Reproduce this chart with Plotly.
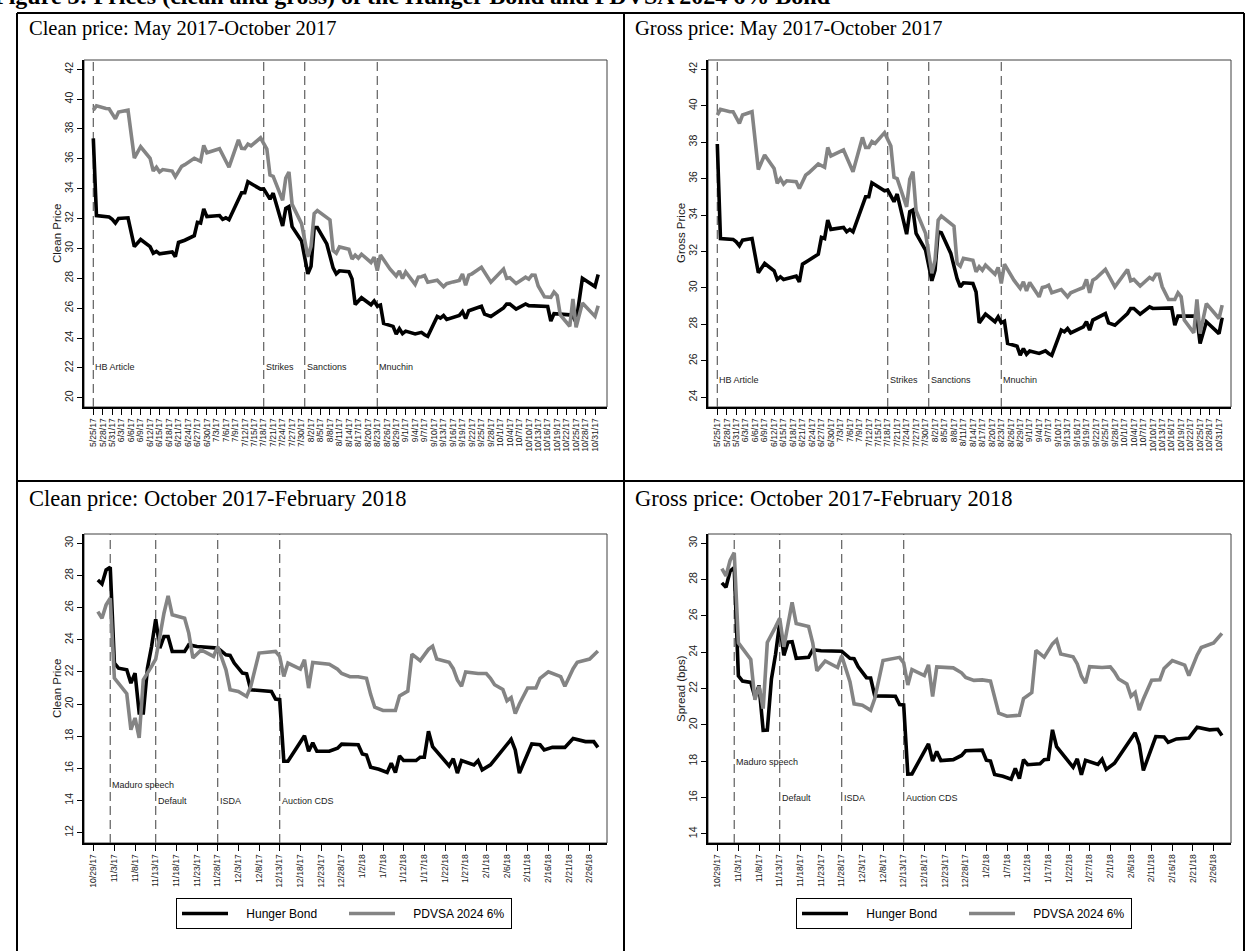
import pandas as pd
import plotly.graph_objects as go

W, H = 1248, 951

# ---------------- DATA ----------------
# Panel 1/2: May-Oct 2017, x = days after 2017-05-25
top_hb_days = [0, 1, 5, 6, 7, 8, 11, 13, 15, 18, 19, 20, 21, 25, 26, 27, 29, 32, 33, 34,
               35, 36, 40, 41, 42, 43, 47, 48, 49, 53, 54, 56, 57, 60, 61, 62, 63, 66, 68, 69,
               70, 71, 74, 76, 77, 78, 81, 82, 83, 85, 88, 89, 90, 91, 92, 95, 96, 97, 98, 99,
               102, 104, 105, 106, 109, 110, 111, 112, 116, 117, 118, 119, 123, 124, 126, 130, 131, 132, 134, 137,
               138, 144, 145, 146, 151, 152, 153, 155, 159, 160]
top_hb_clean = [37.37, 32.2, 32.1, 31.95, 31.7, 32.0, 32.05, 30.12, 30.6, 30.12,
                29.68, 29.8, 29.64, 29.77, 29.45, 30.4, 30.55, 30.85, 31.75, 31.7,
                32.64, 32.13, 32.2, 31.95, 32.05, 31.92, 33.73, 33.73, 34.47, 33.97,
                33.99, 33.3, 33.7, 31.5, 32.68, 32.8, 31.46, 30.5, 28.3, 28.8,
                31.4, 31.4, 30.3, 28.7, 28.3, 28.5, 28.44, 27.96, 26.25, 26.7,
                26.23, 26.48, 26.14, 26.21, 24.98, 24.78, 24.26, 24.62, 24.29, 24.46,
                24.27, 24.38, 24.22, 24.11, 25.44, 25.33, 25.5, 25.24, 25.51, 25.77,
                25.3, 25.83, 26.13, 25.6, 25.44, 26.02, 26.28, 26.27, 25.93, 26.28,
                26.17, 26.11, 25.14, 25.63, 25.55, 25.45, 25.05, 28.0, 27.45, 28.25]
top_hb_gross = [37.9, 32.71, 32.66, 32.53, 32.31, 32.62, 32.71, 30.83, 31.34, 30.94,
                30.46, 30.61, 30.46, 30.64, 30.33, 31.3, 31.52, 31.85, 32.77, 32.71,
                33.72, 33.21, 33.32, 33.08, 33.21, 33.08, 35.0, 35.0, 35.77, 35.33,
                35.37, 34.73, 35.15, 32.95, 34.18, 34.27, 32.99, 32.07, 30.39, 30.97,
                33.08, 33.03, 31.89, 30.5, 30.06, 30.28, 30.24, 29.78, 28.08, 28.56,
                28.14, 28.41, 28.08, 28.17, 26.95, 26.8, 26.3, 26.67, 26.36, 26.54,
                26.4, 26.54, 26.4, 26.3, 27.68, 27.59, 27.77, 27.53, 27.86, 28.14,
                27.68, 28.23, 28.59, 28.08, 27.95, 28.59, 28.87, 28.87, 28.56, 28.96,
                28.87, 28.9, 27.95, 28.45, 28.45, 28.37, 26.95, 28.14, 27.49, 28.37]

top_pd_days = [0, 1, 4, 5, 7, 8, 11, 13, 15, 18, 19, 20, 21, 22, 25, 26, 28, 29, 32, 34,
               35, 36, 40, 43, 46, 47, 48, 49, 50, 53, 55, 56, 57, 60, 61, 62, 63, 66, 68, 69,
               70, 71, 75, 76, 77, 78, 81, 82, 83, 84, 85, 88, 89, 90, 91, 94, 96, 97, 98, 99,
               102, 103, 104, 105, 106, 109, 111, 112, 114, 116, 117, 118, 119, 120, 123, 126, 130, 131, 132, 134,
               137, 138, 139, 140, 141, 143, 145, 146, 147, 148, 151, 152, 153, 155, 159, 160]
top_pd_clean = [39.26, 39.55, 39.37, 39.36, 38.68, 39.13, 39.26, 36.05, 36.81, 36.03,
                35.19, 35.44, 35.12, 35.28, 35.18, 34.8, 35.5, 35.61, 36.04, 35.83,
                36.9, 36.41, 36.68, 35.44, 37.27, 36.7, 36.68, 36.99, 36.87, 37.41,
                36.65, 34.91, 34.82, 33.22, 34.72, 35.12, 32.95, 31.66, 29.44, 30.14,
                32.33, 32.53, 31.91, 29.85, 29.68, 30.1, 29.95, 29.29, 29.55, 29.35,
                29.61, 29.06, 29.41, 28.52, 29.56, 28.63, 28.15, 28.49, 27.98, 28.43,
                27.59, 28.08, 28.1, 28.18, 27.74, 27.87, 27.44, 27.64, 27.76, 27.86,
                28.29, 27.54, 28.21, 28.3, 28.74, 27.74, 28.62, 27.99, 28.04, 27.65,
                28.07, 27.94, 28.21, 28.2, 27.49, 26.76, 26.72, 27.08, 26.84, 25.54,
                24.79, 26.61, 24.72, 26.34, 25.45, 26.16]
top_pd_gross = [39.49, 39.8, 39.67, 39.67, 39.03, 39.49, 39.67, 36.5, 37.29, 36.56,
                35.74, 36.0, 35.7, 35.88, 35.83, 35.46, 36.19, 36.32, 36.8, 36.62,
                37.71, 37.24, 37.57, 36.38, 38.26, 37.71, 37.71, 38.03, 37.93, 38.52,
                37.79, 36.07, 36.0, 34.45, 35.96, 36.38, 34.23, 32.99, 30.8, 31.52,
                33.72, 33.94, 33.39, 31.34, 31.19, 31.62, 31.52, 30.88, 31.16, 30.97,
                31.25, 30.75, 31.12, 30.24, 31.3, 30.42, 29.97, 30.33, 29.84, 30.3,
                29.51, 30.02, 30.06, 30.15, 29.73, 29.91, 29.51, 29.73, 29.88, 30.02,
                30.46, 29.73, 30.42, 30.52, 31.01, 30.06, 31.01, 30.39, 30.46, 30.1,
                30.57, 30.46, 30.75, 30.75, 30.06, 29.36, 29.36, 29.73, 29.51, 28.23,
                27.53, 29.36, 27.49, 29.14, 28.32, 29.05]

# Panel 3/4: Oct 2017-Feb 2018, x = days after 2017-10-29
bot_hb_days = [1, 2, 3, 4, 5, 6, 8, 9, 10, 11, 12, 13, 14, 15, 16, 17, 18, 19, 22, 23,
               25, 29, 30, 32, 33, 34, 36, 37, 38, 43, 44, 45, 46, 47, 51, 52, 53, 54, 57, 59,
               60, 64, 65, 66, 67, 69, 71, 72, 73, 74, 75, 78, 79, 80, 81, 82, 86, 87, 88, 89,
               92, 93, 94, 96, 101, 102, 103, 106, 108, 109, 111, 114, 116, 119, 121, 122]
bot_hb_clean = [27.72, 27.47, 28.34, 28.51, 22.54, 22.23, 22.13, 21.3, 21.92, 19.44,
                19.44, 22.23, 23.58, 25.28, 23.48, 24.2, 24.2, 23.27, 23.27, 23.68,
                23.58, 23.48, 23.48, 23.06, 23.02, 22.55, 21.92, 21.88, 20.89, 20.78,
                20.31, 20.27, 16.44, 16.44, 18.03, 17.06, 17.58, 17.06, 17.06, 17.25,
                17.5, 17.46, 16.89, 16.83, 16.07, 15.94, 15.74, 16.32, 15.74, 16.77,
                16.48, 16.48, 16.69, 16.69, 18.3, 17.35, 16.15, 16.6, 15.7, 16.48,
                16.21, 16.48, 15.9, 16.21, 17.8, 17.14, 15.7, 17.51, 17.46, 17.14,
                17.3, 17.3, 17.85, 17.66, 17.66, 17.3]
bot_hb_gross = [27.82, 27.58, 28.47, 28.66, 22.7, 22.41, 22.34, 21.53, 22.17, 19.7,
                19.72, 22.53, 23.89, 25.61, 23.83, 24.56, 24.58, 23.67, 23.72, 24.14,
                24.08, 24.04, 24.06, 23.67, 23.65, 23.2, 22.6, 22.58, 21.6, 21.58,
                21.12, 21.1, 17.29, 17.3, 18.96, 18.01, 18.54, 18.04, 18.09, 18.32,
                18.58, 18.61, 18.06, 18.01, 17.27, 17.17, 17.01, 17.6, 17.04, 18.09,
                17.81, 17.86, 18.09, 18.11, 19.73, 18.8, 17.67, 18.13, 17.25, 18.05,
                17.83, 18.11, 17.55, 17.89, 19.57, 18.92, 17.5, 19.36, 19.34, 19.04,
                19.23, 19.28, 19.87, 19.73, 19.76, 19.42]

bot_pd_days = [1, 2, 3, 4, 5, 8, 9, 10, 11, 12, 14, 15, 16, 17, 18, 19, 22, 23, 24, 26,
               29, 30, 32, 33, 35, 37, 38, 40, 44, 45, 46, 47, 50, 51, 52, 53, 57, 59, 60, 62,
               64, 66, 67, 68, 70, 73, 74, 76, 77, 79, 81, 82, 83, 86, 87, 88, 89, 90, 93, 95,
               96, 97, 99, 100, 101, 102, 103, 105, 107, 108, 110, 112, 113, 114, 116, 117, 120, 122]
bot_pd_clean = [25.75, 25.34, 26.17, 26.58, 21.61, 20.64, 18.4, 19.13, 17.89, 21.51,
                22.34, 22.79, 24.2, 25.65, 26.73, 25.55, 25.34, 24.41, 22.86, 23.37,
                22.96, 23.58, 22.13, 20.89, 20.78, 20.47, 21.1, 23.17, 23.27, 22.96,
                21.72, 22.55, 22.17, 22.75, 20.99, 22.59, 22.48, 22.17, 21.9, 21.7,
                21.7, 21.6, 20.6, 19.8, 19.6, 19.6, 20.5, 20.8, 23.1, 22.7,
                23.4, 23.6, 22.8, 22.6, 22.2, 21.5, 21.1, 22.0, 21.9, 21.9,
                21.6, 21.2, 20.9, 20.2, 20.4, 19.4, 20.0, 21.0, 21.0, 21.6,
                22.0, 21.8, 21.7, 21.1, 22.2, 22.6, 22.8, 23.3]
bot_pd_gross = [28.6, 28.2, 29.05, 29.48, 24.52, 23.6, 21.38, 22.13, 20.9, 24.54,
                25.4, 25.87, 24.3, 25.65, 26.75, 25.58, 25.42, 24.51, 22.98, 23.52,
                23.16, 23.8, 22.38, 21.16, 21.08, 20.8, 21.45, 23.55, 23.72, 23.42,
                22.2, 23.05, 22.72, 23.31, 21.57, 23.19, 23.14, 22.87, 22.61, 22.45,
                22.48, 22.41, 21.43, 20.65, 20.48, 20.53, 21.45, 21.78, 24.1, 23.73,
                24.46, 24.68, 23.9, 23.75, 23.36, 22.68, 22.3, 23.21, 23.16, 23.19,
                22.91, 22.53, 22.26, 21.58, 21.79, 20.81, 21.43, 22.46, 22.49, 23.11,
                23.54, 23.38, 23.29, 22.71, 23.84, 24.26, 24.51, 25.04]

top_events = ["HB Article", "Strikes", "Sanctions", "Mnuchin"]
top_event_dates = ["2017-05-25", "2017-07-18", "2017-07-31", "2017-08-23"]
bot_events = ["Maduro speech", "Default", "ISDA", "Auction CDS"]
bot_event_dates = ["2017-11-02", "2017-11-13", "2017-11-28", "2017-12-13"]

panel_titles = ["Clean price: May 2017-October 2017", "Gross price: May 2017-October 2017",
                "Clean price: October 2017-February 2018", "Gross price: October 2017-February 2018"]
y_titles = ["Clean Price", "Gross Price", "Clean Price", "Spread (bps)"]
series_names = ["Hunger Bond", "PDVSA 2024 6%"]
fig_title = "Figure 3: Prices (clean and gross) of the Hunger Bond and PDVSA 2024 6% Bond"

# tick schedules (first and last labelled date, step in days)
top_ticks = ("2017-05-25", "2017-10-31", 3)
bot_ticks = ("2017-10-29", "2018-02-26", 5)

# ---------------- LAYOUT HELPERS ----------------
T0 = pd.Timestamp("2017-05-25")
B0 = pd.Timestamp("2017-10-29")


def to_dates(base, days):
    return [base + pd.Timedelta(days=d) for d in days]


def px(x):
    return x / W


def py(y):
    return 1 - y / H


SANS = "Liberation Sans, Arial, sans-serif"
SERIF = "Liberation Serif, Times New Roman, serif"
BLACK = "#000000"
GRAY = "#848484"

boxes = [(84, 607, 60, 407), (708, 1231, 60, 407), (84, 607, 534, 843), (708, 1231, 534, 843)]
yranges = [[19.38, 42.62], [23.46, 42.51], [11.35, 30.58], [13.5, 30.51]]
top_xr = [str(T0 + pd.Timedelta(days=-2.95)), str(T0 + pd.Timedelta(days=162.8))]
bot_xr = [str(B0 + pd.Timedelta(days=-2.35)), str(B0 + pd.Timedelta(days=124.2))]
xranges = [top_xr, top_xr, bot_xr, bot_xr]
top_tv = list(pd.date_range(top_ticks[0], top_ticks[1], freq=f"{top_ticks[2]}D"))
bot_tv = list(pd.date_range(bot_ticks[0], bot_ticks[1], freq=f"{bot_ticks[2]}D"))
tickvals = [top_tv, top_tv, bot_tv, bot_tv]
label_y = [[22.06] * 4, [24.94] * 4, [14.96, 13.99, 13.99, 13.99], [17.95, 16.0, 16.0, 16.0]]

fig = go.Figure()

data = [
    (to_dates(T0, top_hb_days), top_hb_clean, to_dates(T0, top_pd_days), top_pd_clean),
    (to_dates(T0, top_hb_days), top_hb_gross, to_dates(T0, top_pd_days), top_pd_gross),
    (to_dates(B0, bot_hb_days), bot_hb_clean, to_dates(B0, bot_pd_days), bot_pd_clean),
    (to_dates(B0, bot_hb_days), bot_hb_gross, to_dates(B0, bot_pd_days), bot_pd_gross),
]

shapes = []
annotations = []
layout_axes = {}
PAD = "\u00a0" * 4

for i in range(4):
    sfx = "" if i == 0 else str(i + 1)
    xa, ya = "x" + sfx, "y" + sfx
    x0, x1, y0, y1 = boxes[i]
    legend_id = None
    if i == 2:
        legend_id = "legend"
    elif i == 3:
        legend_id = "legend2"
    hx, hy, gx, gy = data[i]
    fig.add_trace(go.Scatter(x=hx, y=hy, mode="lines", name=PAD + series_names[0],
                             line=dict(color=BLACK, width=3.6), xaxis=xa, yaxis=ya,
                             showlegend=legend_id is not None, legend=legend_id or "legend",
                             hoverinfo="skip"))
    fig.add_trace(go.Scatter(x=gx, y=gy, mode="lines", name=PAD + series_names[1],
                             line=dict(color=GRAY, width=3.6), xaxis=xa, yaxis=ya,
                             showlegend=legend_id is not None, legend=legend_id or "legend",
                             hoverinfo="skip"))

    layout_axes["xaxis" + sfx] = dict(
        domain=[px(x0), px(x1)], range=xranges[i], type="date", anchor=ya,
        tickmode="array", tickvals=tickvals[i], tickformat="%-m/%-d/%y",
        tickangle=-90, ticks="outside", ticklen=6, tickwidth=1, tickcolor=BLACK,
        showline=True, linecolor=BLACK, linewidth=1.6, showgrid=False, zeroline=False,
        tickfont=dict(family=SANS, size=8.6, color="#1a1a1a"), fixedrange=True)
    layout_axes["yaxis" + sfx] = dict(
        domain=[py(y1), py(y0)], range=yranges[i], anchor=xa,
        tick0=0, dtick=2, tickangle=-90, ticks="outside", ticklen=5, tickwidth=1,
        tickcolor=BLACK, showline=True, linecolor=BLACK, linewidth=1.6,
        showgrid=False, zeroline=False, fixedrange=True,
        tickfont=dict(family=SANS, size=10.5, color="#1a1a1a"))

    shapes.append(dict(type="rect", xref=xa + " domain", yref=ya + " domain",
                       x0=0, x1=1, y0=0, y1=1, line=dict(color="#404040", width=1),
                       layer="below"))
    ev_names = top_events if i < 2 else bot_events
    ev_dates = top_event_dates if i < 2 else bot_event_dates
    for k, (nm, dt) in enumerate(zip(ev_names, ev_dates)):
        shapes.append(dict(type="line", xref=xa, yref=ya + " domain", x0=dt, x1=dt,
                           y0=0, y1=1, line=dict(color="#5f5f5f", width=1.2, dash="9px,5px"),
                           layer="below"))
        annotations.append(dict(x=dt, y=label_y[i][k], xref=xa, yref=ya, text=nm,
                                showarrow=False, xanchor="left", yanchor="middle", xshift=0,
                                font=dict(family=SANS, size=9, color="#222222")))
    annotations.append(dict(x=px(x0 - 27.5), y=py((y0 + y1) / 2), xref="paper", yref="paper",
                            text=y_titles[i], textangle=-90, showarrow=False,
                            xanchor="center", yanchor="middle",
                            font=dict(family=SANS, size=11.5, color="#1a1a1a")))

# panel titles
title_pos = [(27, 28, 20.5), (633, 28, 20.5), (27, 499, 22.5), (633, 499, 22.5)]
for t, (tx, ty, fs) in zip(panel_titles, title_pos):
    annotations.append(dict(x=px(tx), y=py(ty), xref="paper", yref="paper", text=t,
                            showarrow=False, xanchor="left", yanchor="middle",
                            font=dict(family=SERIF, size=fs, color=BLACK)))

# figure title (cut off by the top edge, as in the source)
annotations.append(dict(x=px(-8), y=py(11), xref="paper", yref="paper",
                        text="<b>" + fig_title + "</b>", showarrow=False,
                        xanchor="left", yanchor="bottom",
                        font=dict(family=SERIF, size=24, color=BLACK)))

# table-like panel borders
BL = dict(color=BLACK, width=2)
for (ax0, ay0, ax1, ay1) in [(17, 13, 1244, 13), (17, 13, 17, 951), (1244, 13, 1244, 951),
                             (624, 13, 624, 951), (17, 481, 1244, 481)]:
    shapes.append(dict(type="line", xref="paper", yref="paper", x0=px(ax0), y0=py(ay0),
                       x1=px(ax1), y1=py(ay1), line=BL))

legend_common = dict(orientation="h", xanchor="left", yanchor="top", bgcolor="white",
                     bordercolor=BLACK, borderwidth=1,
                     font=dict(family=SANS, size=12, color=BLACK),
                     entrywidth=106, itemwidth=46, tracegroupgap=0)

fig.update_layout(
    width=W, height=H, autosize=False,
    margin=dict(l=0, r=0, t=0, b=0, pad=0),
    paper_bgcolor="white", plot_bgcolor="white",
    shapes=shapes, annotations=annotations,
    legend=dict(x=px(176), y=py(898), **legend_common),
    legend2=dict(x=px(796), y=py(898), **legend_common),
    **layout_axes,
)

fig.write_html("out.html", config={"displayModeBar": False},
               post_script="document.body.style.margin='0px';document.body.style.overflow='hidden';")
